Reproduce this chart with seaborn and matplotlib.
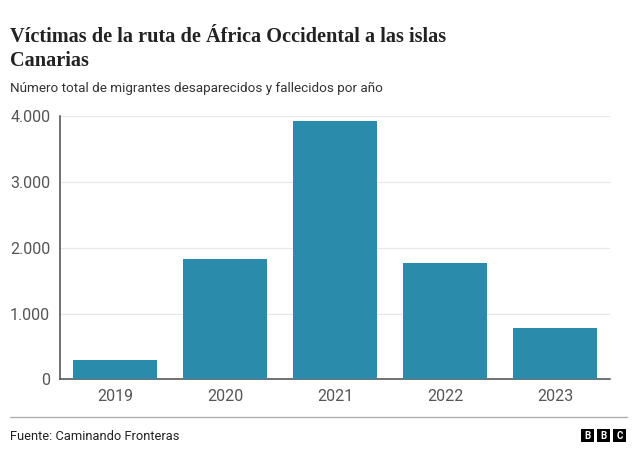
import matplotlib.pyplot as plt
import matplotlib as mpl
import numpy as np
import pandas as pd
import seaborn as sns

years = ["2019", "2020", "2021", "2022", "2023"]
victims = [300, 1825, 3930, 1775, 775]
y_ticks = [0, 1000, 2000, 3000, 4000]
y_tick_labels = ["0", "1.000", "2.000", "3.000", "4.000"]

title = "Víctimas de la ruta de África Occidental a las islas\nCanarias"
subtitle = "Número total de migrantes desaparecidos y fallecidos por año"
source = "Fuente: Caminando Fronteras"

bar_color = "#2a8bab"
axis_color = "#4a4a4a"
text_color = "#555555"

sns.set_style("white")
plt.rcParams['font.family'] = ['Roboto', 'DejaVu Sans']

df = pd.DataFrame({'year': years, 'victims': victims})

fig = plt.figure(figsize=(6.4, 4.61), dpi=100)
ax = fig.add_axes([60/640, 1 - 379.3/461, 550/640, (379.3 - 116.3)/461])

sns.barplot(data=df, x='year', y='victims', ax=ax, color=bar_color,
            saturation=1, width=0.755, linewidth=0, zorder=3)

ax.set_xlim(-0.5, 4.5)
ax.set_ylim(0, 4000)
ax.set_yticks(y_ticks)
ax.set_yticklabels(y_tick_labels)
ax.set_xlabel('')
ax.set_ylabel('')

# Gridlines
ax.yaxis.grid(True, color='#e8e8e8', linewidth=0.9, zorder=0)
ax.xaxis.grid(False)

# Spines
for side in ['top', 'right']:
    ax.spines[side].set_visible(False)
for side in ['left', 'bottom']:
    ax.spines[side].set_color(axis_color)
    ax.spines[side].set_linewidth(1.1)

ax.tick_params(axis='both', which='major', direction='out', length=5,
               width=1, color=axis_color, labelsize=11.5,
               labelcolor=text_color, pad=2)

# Title block (baseline = last line)
fig.text(10/640, 1 - 66/461, title, fontsize=14.6, fontweight='bold',
         family=['Liberation Serif'], color='#222222', va='baseline', ha='left',
         linespacing=1.25)
fig.text(10/640, 1 - 92/461, subtitle, fontsize=9.7, color='#333333',
         va='baseline', ha='left')

# Footer
fig.add_artist(mpl.lines.Line2D([10/640, 627/640], [1 - 417/461, 1 - 417/461],
                                color='#b0b0b0', linewidth=1))
fig.text(10/640, 1 - 440/461, source, fontsize=9.3, color='#222222',
         va='baseline', ha='left')

# BBC logo blocks
for i, letter in enumerate("BBC"):
    x0 = 581 + i * 16
    fig.add_artist(mpl.patches.Rectangle((x0/640, 1 - 442/461), 13/640, 13/461,
                                         transform=fig.transFigure,
                                         facecolor='black', edgecolor='none'))
    fig.text((x0 + 6.5)/640, 1 - 435.5/461, letter, fontsize=7,
             fontweight='bold', color='white', ha='center', va='center')

fig.savefig('out.png', dpi=100)
